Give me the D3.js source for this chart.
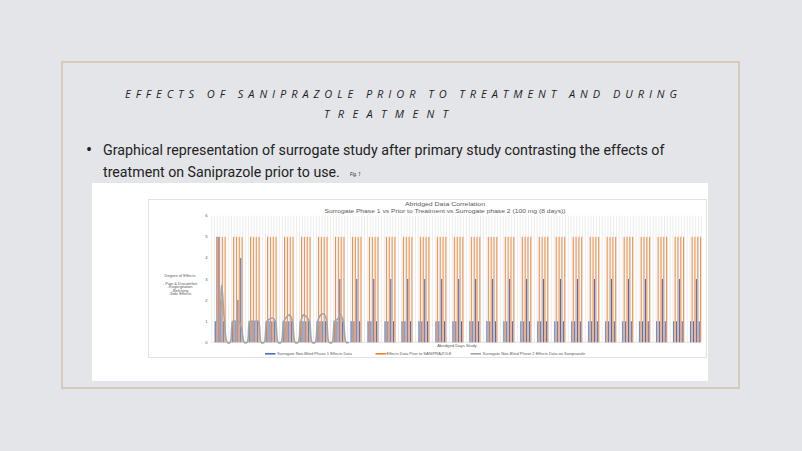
<!DOCTYPE html>
<html><head><meta charset="utf-8">
<script src="https://cdn.jsdelivr.net/npm/d3@7"></script>
<style>html,body{margin:0;padding:0;background:#e4e5e9;}svg{display:block}</style>
</head><body><svg id="c" width="802" height="451"></svg>
<script>
// ---- data ----
const groupLabels = ["1","2","3","4","5","6","7","8","9","10","11","12","13","14","15","16","17","18","19","20","21","22","23","24","25","26","27","28","29"];
const phase1 = [[1,5,2,1],[1,1,2,4],[1,1,1,1],[1,1,1,1],[1,1,1,1],[1,1,1,1],[1,1,1,1],[1,1,3,1],
  [1,1,3,1],[1,1,3,1],[1,1,3,1],[1,1,3,1],[1,1,3,1],[1,1,3,1],[1,1,3,1],[1,1,3,1],[1,1,3,1],[1,1,3,1],
  [1,1,3,1],[1,1,3,1],[1,1,3,1],[1,1,3,1],[1,1,3,1],[1,1,3,1],[1,1,3,1],[1,1,3,1],[1,1,3,1],[1,1,3,1],[1,1,3,1]];
const prior = [[5,5,5,5],[5,5,5,5],[5,5,5,5],[5,5,5,5],[5,5,5,5],[5,5,5,5],[5,5,5,5],[5,5,5,5],
  [5,5,5,5],[5,5,5,5],[5,5,5,5],[5,5,5,5],[5,5,5,5],[5,5,5,5],[5,5,5,5],[5,5,5,5],[5,5,5,5],[5,5,5,5],
  [5,5,5,5],[5,5,5,5],[5,5,5,5],[5,5,5,5],[5,5,5,5],[5,5,5,5],[5,5,5,5],[5,5,5,5],[5,5,5,5],[5,5,5,5],[5,5,5,5]];
const phase2 = [[1,1,2.7,1],[1,1,1,0.7],[1,1,1,1],[1,1.1,1.15,1],[1,1.2,1.3,1],[1,1.3,1.2,1],[1,1.3,1.35,1.1],[1,1.1,1.3,1],
  null,null,null,null,null,null,null,null,null,null,null,null,null,null,null,null,null,null,null,null,null];
const yTicks = [0,1,2,3,4,5,6];
const seriesNames = ["Surrogate Non-Blind Phase 1 Effects Data","Effects Data Prior to SANIPRAZOLE","Surrogate Non-Blind Phase 2 Effects Data on Saniprazole"];
const colors = ["#4472C4","#ED7D31","#A5A5A5"];

// ---- build categories ----
const cats = [{id:"p0", gap:true, l:null}];
groupLabels.forEach((g,gi)=>{
  for(let k=0;k<4;k++) cats.push({id:g+"-"+k, gap:false, b:phase1[gi][k], o:prior[gi][k], l: phase2[gi]? phase2[gi][k] : null});
  if(gi<groupLabels.length-1){
    cats.push({id:g+"-g1", gap:true, l: phase2[gi]?0:null});
    cats.push({id:g+"-g2", gap:true, l: phase2[gi]?0:null});
  }
});

const svg = d3.select("#c");
svg.append("rect").attr("width",802).attr("height",451).attr("fill","#e4e5e9");
svg.append("rect").attr("x",62).attr("y",62).attr("width",677).attr("height",326)
  .attr("fill","none").attr("stroke","#d6cbb8").attr("stroke-width",2);

// helper: squeeze text horizontally to a target width
function fit(sel, x, y, target){
  const w = sel.node().getComputedTextLength();
  sel.attr("x",0).attr("y",0).attr("transform",`translate(${x},${y}) scale(${target/w},1)`);
  return sel;
}

// title
const tt = svg.append("g").attr("font-family","'Open Sans','Liberation Sans',sans-serif")
  .attr("font-style","italic").attr("font-size",11).attr("fill","#1e1e1e");
tt.append("text").attr("x",125).attr("y",98).attr("textLength",552).attr("lengthAdjust","spacing")
  .text("EFFECTS OF SANIPRAZOLE PRIOR TO TREATMENT  AND DURING");
tt.append("text").attr("x",324).attr("y",118).attr("textLength",124).attr("lengthAdjust","spacing")
  .text("TREATMENT");

// bullet
const bt = svg.append("g").attr("font-family","'Liberation Sans Narrow','Roboto','Liberation Sans',sans-serif")
  .attr("font-size",15).attr("fill","#222222");
bt.append("text").attr("x",86).attr("y",156).attr("font-size",18).text("•");
fit(bt.append("text").text("Graphical representation of surrogate study after primary study contrasting the effects of"),103,155,562);
fit(bt.append("text").text("treatment on Saniprazole prior to use."),103,177,237);
bt.append("text").attr("x",350).attr("y",175.5).attr("font-size",4.5).attr("font-style","italic").text("Fig. 1");

// chart image
svg.append("rect").attr("x",92).attr("y",183).attr("width",616).attr("height",198).attr("fill","#ffffff");
svg.append("rect").attr("x",148.5).attr("y",199.5).attr("width",558).attr("height",158)
  .attr("fill","#ffffff").attr("stroke","#e2e2e2").attr("stroke-width",1);

const x = d3.scaleBand().domain(cats.map(d=>d.id)).range([211.7,701.3]).padding(0);
const bw = x.bandwidth();
const xs = d3.scaleBand().domain(["b","o"]).range([0,bw]).paddingInner(0.2).paddingOuter(0.15);
const y = d3.scaleLinear().domain([0,6]).range([342.3,215.7]);

const ct = svg.append("g").attr("font-family","'Liberation Sans',Arial,sans-serif").attr("fill","#5a5a5a");
ct.append("text").attr("x",445).attr("y",206).attr("text-anchor","middle").attr("font-size",6.2)
  .attr("textLength",80).attr("lengthAdjust","spacingAndGlyphs").text("Abridged Data Correlation");
ct.append("text").attr("x",445).attr("y",212.8).attr("text-anchor","middle").attr("font-size",6.2)
  .attr("textLength",241).attr("lengthAdjust","spacingAndGlyphs")
  .text("Surrogate Phase 1 vs Prior to Treatment vs Surrogate phase 2 (100 mg (8 days))");

// gridlines (vertical, per category)
const gl = svg.append("g").attr("stroke","#e4e4e4").attr("stroke-width",0.7);
const bounds = cats.map(d=>x(d.id)).concat([x(cats[cats.length-1].id)+bw]);
gl.selectAll("line").data(bounds).join("line")
  .attr("x1",d=>d).attr("x2",d=>d).attr("y1",y(6)).attr("y2",y(0));

svg.append("line").attr("x1",211.7).attr("x2",701.3).attr("y1",y(0)).attr("y2",y(0))
  .attr("stroke","#d9d9d9").attr("stroke-width",0.8);

ct.append("g").selectAll("text").data(yTicks).join("text")
  .attr("x",206.3).attr("y",d=>y(d)+1.5).attr("text-anchor","middle").attr("font-size",4.2).text(d=>d);

// bars
const dataCats = cats.filter(d=>!d.gap);
svg.append("g").selectAll("rect").data(dataCats).join("rect")
  .attr("x",d=>x(d.id)+xs("b")).attr("width",xs.bandwidth())
  .attr("y",d=>y(d.b)).attr("height",d=>y(0)-y(d.b)).attr("fill",colors[0]);
svg.append("g").selectAll("rect").data(dataCats).join("rect")
  .attr("x",d=>x(d.id)+xs("o")).attr("width",xs.bandwidth())
  .attr("y",d=>y(d.o)).attr("height",d=>y(0)-y(d.o)).attr("fill",colors[1]).attr("fill-opacity",0.85);

// line
const line = d3.line().defined(d=>d.l!=null).x(d=>x(d.id)+bw/2).y(d=>y(d.l)).curve(d3.curveCatmullRom.alpha(0.5));
svg.append("path").datum(cats).attr("d",line).attr("fill","none").attr("stroke",colors[2]).attr("stroke-width",1.6);

// axis titles
[["Degree of Effects",276.8],["- Pain & Discomfort",284.5],["-Regurgitation",288],["-Belching",291.5],["-Side Effects",295]]
  .forEach(([t,yy])=>ct.append("text").attr("x",180).attr("y",yy).attr("font-size",4).attr("text-anchor","middle").text(t));
ct.append("text").attr("x",457).attr("y",347).attr("font-size",4.2).attr("text-anchor","middle").text("Abridged Days Study");

// legend
const legX = [[265,277],[375.5,386.5],[470.5,482.5]];
seriesNames.forEach((n,i)=>{
  svg.append("line").attr("x1",legX[i][0]).attr("x2",legX[i][0]+10.5).attr("y1",353.8).attr("y2",353.8)
    .attr("stroke",colors[i]).attr("stroke-width",1.6);
  ct.append("text").attr("x",legX[i][1]).attr("y",355.2).attr("font-size",4).text(n);
});
</script></body></html>
